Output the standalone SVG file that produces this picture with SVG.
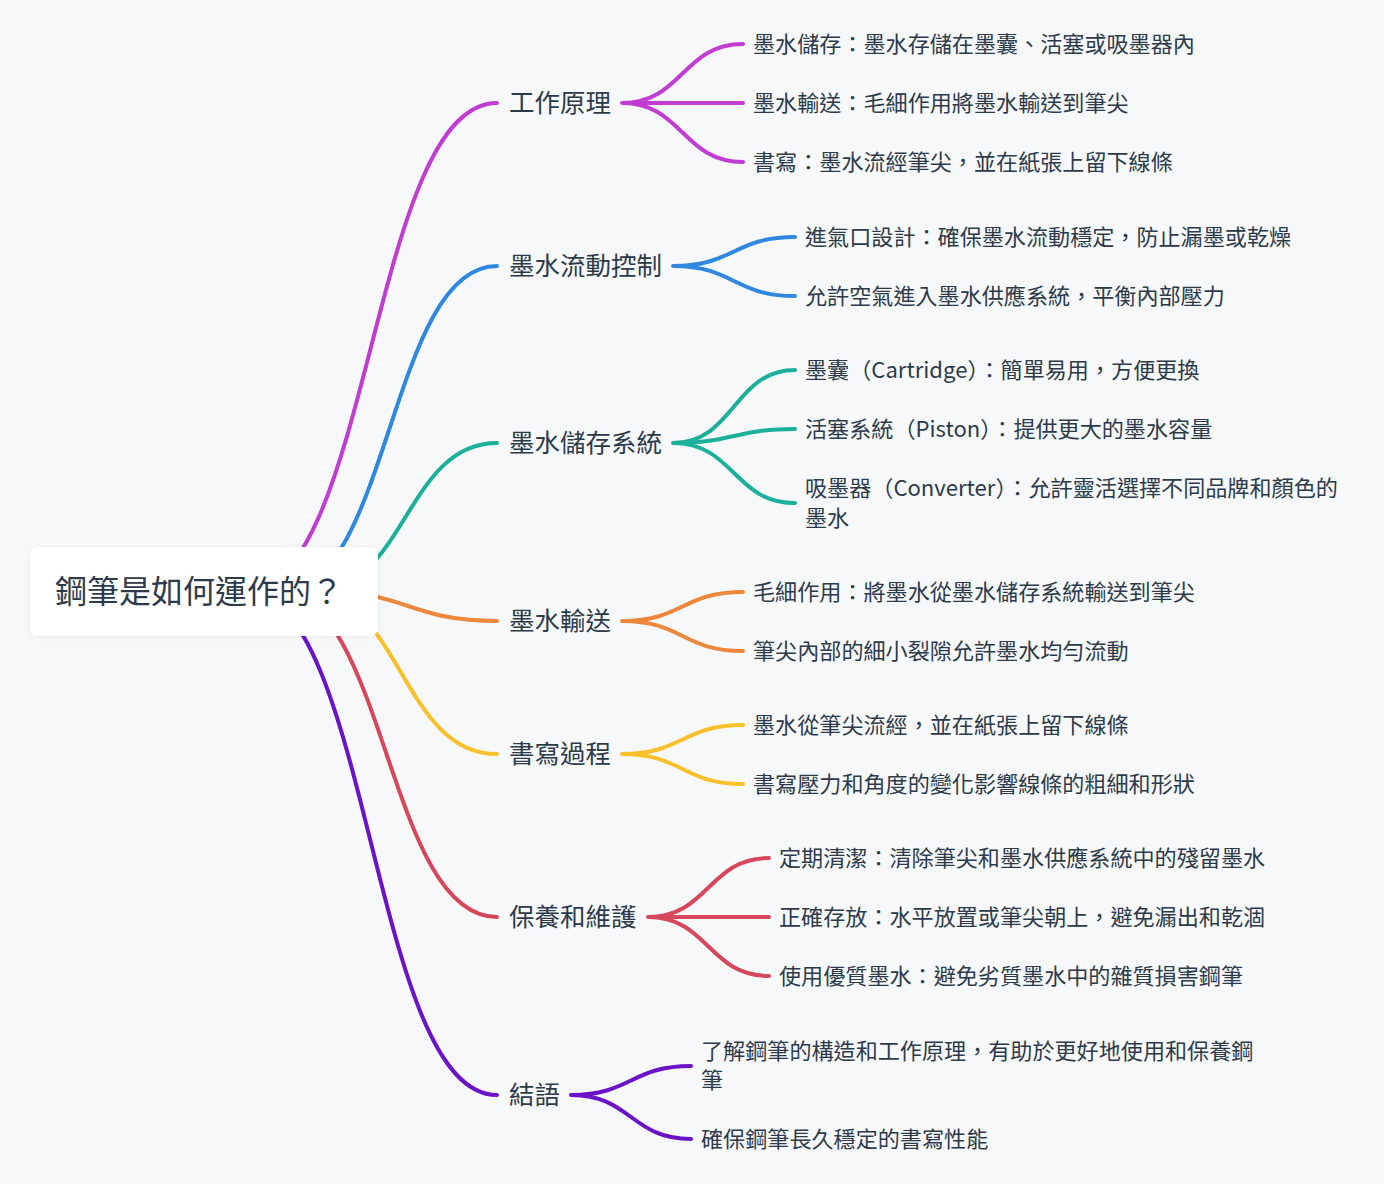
<svg xmlns="http://www.w3.org/2000/svg" width="1384" height="1184" viewBox="0 0 1384 1184">
<defs>
<style>
text{font-family:"Noto Sans CJK TC","Noto Sans",sans-serif;fill:#2d3a4a}
.root{font-size:32px}
.l1{font-size:25.5px}
.l2{font-size:22.1px}
.lk{fill:none;stroke-width:4;stroke-linecap:round}
.c1{stroke:#c13dd2}.c2{stroke:#2f88dd}.c3{stroke:#1ab09a}.c4{stroke:#ec873c}.c5{stroke:#f9c02a}.c6{stroke:#d6475c}.c7{stroke:#6b13c6}
</style>
<filter id="sh" x="-10%" y="-20%" width="120%" height="140%"><feDropShadow dx="0" dy="1" stdDeviation="3" flood-color="#000" flood-opacity="0.06"/></filter>
</defs>
<rect width="1384" height="1184" fill="#f6f8fa"/>
<g id="connectors">
<path class="lk c1" d="M245 591C371 591 371 103 497 103"/>
<path class="lk c2" d="M282 591C389.5 591 389.5 266 497 266"/>
<path class="lk c3" d="M314 591C405.5 591 405.5 443 497 443"/>
<path class="lk c4" d="M319 591C408 591 408 621 497 621"/>
<path class="lk c5" d="M305 591C401 591 401 754 497 754"/>
<path class="lk c6" d="M276 591C386.5 591 386.5 917 497 917"/>
<path class="lk c7" d="M245 591C371 591 371 1095 497 1095"/>
<path class="lk c1" d="M622 103C682.5 103 682.5 44 743 44M622 103C682.5 103 682.5 103 743 103M622 103C682.5 103 682.5 162 743 162"/>
<path class="lk c2" d="M673 266C734 266 734 237 795 237M673 266C734 266 734 296 795 296"/>
<path class="lk c3" d="M673 443C734 443 734 370 795 370M673 443C734 443 734 429 795 429M673 443C734 443 734 503 795 503"/>
<path class="lk c4" d="M622 621C682.5 621 682.5 592 743 592M622 621C682.5 621 682.5 651 743 651"/>
<path class="lk c5" d="M622 754C682.5 754 682.5 725 743 725M622 754C682.5 754 682.5 784 743 784"/>
<path class="lk c6" d="M648 917C708.5 917 708.5 858 769 858M648 917C708.5 917 708.5 917 769 917M648 917C708.5 917 708.5 976 769 976"/>
<path class="lk c7" d="M571 1095C631 1095 631 1066 691 1066M571 1095C631 1095 631 1139 691 1139"/>
</g>
<g id="root">
<rect x="30" y="547" width="348" height="89" rx="8" fill="#fff" filter="url(#sh)"/>
<text class="root" x="55" y="603">鋼筆是如何運作的？</text>
</g>
<g id="n1"><text class="l1" x="509" y="112">工作原理</text></g>
<g id="n1a"><text class="l2" x="753" y="52">墨水儲存：墨水存儲在墨囊、活塞或吸墨器內</text></g>
<g id="n1b"><text class="l2" x="753" y="111">墨水輸送：毛細作用將墨水輸送到筆尖</text></g>
<g id="n1c"><text class="l2" x="753" y="170">書寫：墨水流經筆尖，並在紙張上留下線條</text></g>
<g id="n2"><text class="l1" x="509" y="275">墨水流動控制</text></g>
<g id="n2a"><text class="l2" x="805" y="245">進氣口設計：確保墨水流動穩定，防止漏墨或乾燥</text></g>
<g id="n2b"><text class="l2" x="805" y="304">允許空氣進入墨水供應系統，平衡內部壓力</text></g>
<g id="n3"><text class="l1" x="509" y="452">墨水儲存系統</text></g>
<g id="n3a"><text class="l2" x="805" y="378">墨囊（Cartridge）：簡單易用，方便更換</text></g>
<g id="n3b"><text class="l2" x="805" y="437">活塞系統（Piston）：提供更大的墨水容量</text></g>
<g id="n3c"><text class="l2" x="805" y="496">吸墨器（Converter）：允許靈活選擇不同品牌和顏色的</text><text class="l2" x="805" y="526">墨水</text></g>
<g id="n4"><text class="l1" x="509" y="630">墨水輸送</text></g>
<g id="n4a"><text class="l2" x="753" y="600">毛細作用：將墨水從墨水儲存系統輸送到筆尖</text></g>
<g id="n4b"><text class="l2" x="753" y="659">筆尖內部的細小裂隙允許墨水均勻流動</text></g>
<g id="n5"><text class="l1" x="509" y="763">書寫過程</text></g>
<g id="n5a"><text class="l2" x="753" y="733">墨水從筆尖流經，並在紙張上留下線條</text></g>
<g id="n5b"><text class="l2" x="753" y="792">書寫壓力和角度的變化影響線條的粗細和形狀</text></g>
<g id="n6"><text class="l1" x="509" y="926">保養和維護</text></g>
<g id="n6a"><text class="l2" x="779" y="866">定期清潔：清除筆尖和墨水供應系統中的殘留墨水</text></g>
<g id="n6b"><text class="l2" x="779" y="925">正確存放：水平放置或筆尖朝上，避免漏出和乾涸</text></g>
<g id="n6c"><text class="l2" x="779" y="984">使用優質墨水：避免劣質墨水中的雜質損害鋼筆</text></g>
<g id="n7"><text class="l1" x="509" y="1104">結語</text></g>
<g id="n7a"><text class="l2" x="701" y="1059">了解鋼筆的構造和工作原理，有助於更好地使用和保養鋼</text><text class="l2" x="701" y="1088">筆</text></g>
<g id="n7b"><text class="l2" x="701" y="1147">確保鋼筆長久穩定的書寫性能</text></g>
</svg>
